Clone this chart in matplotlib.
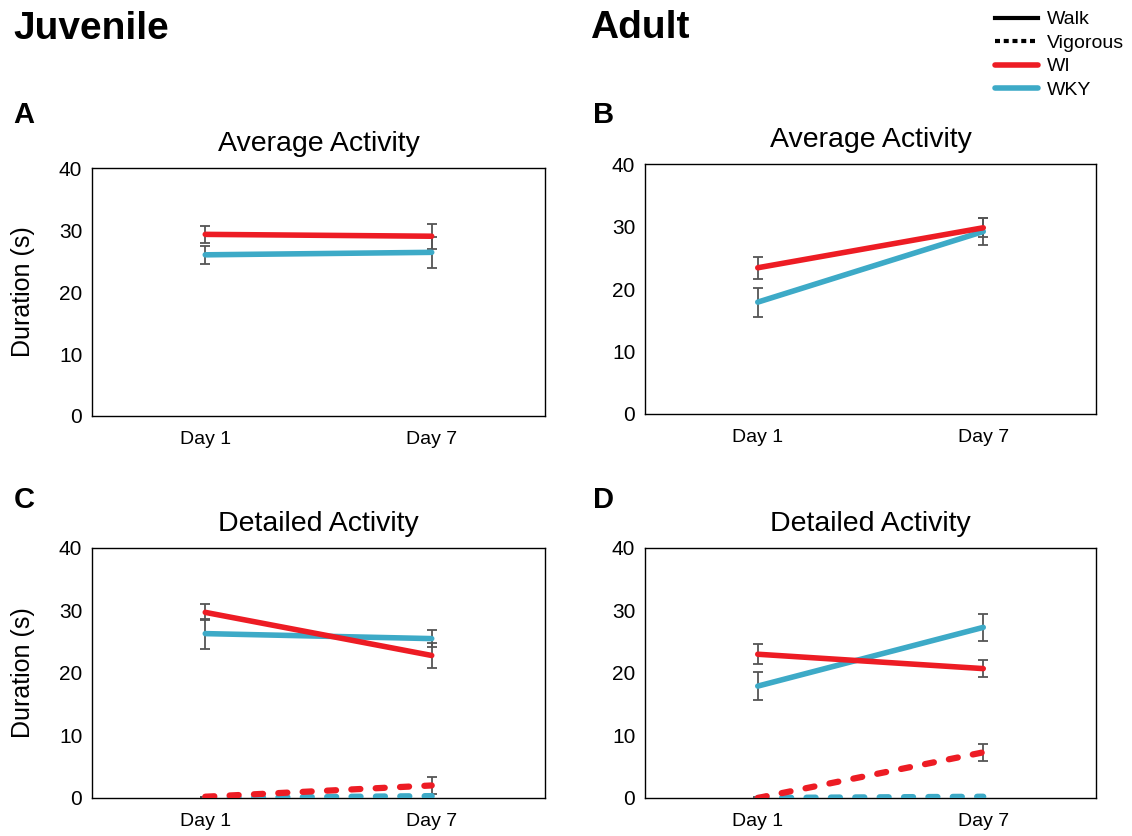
import matplotlib.pyplot as plt
from matplotlib.lines import Line2D

days = ['Day 1', 'Day 7']

# juvenile, walking (average activity)
juv_avg_wi = [29.3, 29.0]
juv_avg_wi_err = [1.4, 2.0]
juv_avg_wky = [26.0, 26.4]
juv_avg_wky_err = [1.5, 2.5]

# adult, walking (average activity)
adu_avg_wi = [23.4, 29.8]
adu_avg_wi_err = [1.8, 1.5]
adu_avg_wky = [17.9, 29.2]
adu_avg_wky_err = [2.3, 2.2]

# juvenile, detailed: walk + vigorous
juv_walk_wi = [29.7, 22.8]
juv_walk_wi_err = [1.3, 2.0]
juv_walk_wky = [26.3, 25.5]
juv_walk_wky_err = [2.4, 1.3]
juv_vig_wi = [0.2, 2.0]
juv_vig_wi_err = [0.0, 1.4]
juv_vig_wky = [0.0, 0.3]

# adult, detailed: walk + vigorous
adu_walk_wi = [23.0, 20.7]
adu_walk_wi_err = [1.6, 1.3]
adu_walk_wky = [17.9, 27.3]
adu_walk_wky_err = [2.3, 2.2]
adu_vig_wi = [0.0, 7.3]
adu_vig_wi_err = [0.2, 1.4]
adu_vig_wky = [0.0, 0.2]

RED = '#ED1C24'
BLUE = '#3DAAC7'
ERR = '#555555'
x = [0, 1]
dash = (0, (1.45, 2.45))

fig = plt.figure(figsize=(11.32, 8.36), dpi=100)
plt.rcParams['font.family'] = ['Liberation Sans', 'DejaVu Sans']


def make_ax(rect, title, ylabel=None):
    ax = fig.add_axes(rect)
    ax.set_xlim(-0.5, 1.5)
    ax.set_ylim(0, 40)
    ax.set_yticks([0, 10, 20, 30, 40])
    ax.set_xticks(x)
    ax.set_xticklabels(days)
    ax.tick_params(axis='x', length=0, labelsize=14, pad=11)
    ax.tick_params(axis='y', length=0, labelsize=15, pad=7)
    for s in ax.spines.values():
        s.set_linewidth(1.0)
    ax.set_title(title, fontsize=20.5, pad=12)
    if ylabel:
        ax.set_ylabel(ylabel, fontsize=18)
        ax.yaxis.set_label_coords(-0.127, 0.5)
    return ax


def series(ax, y, err, color, ls='-', lw=4.0):
    if err is not None:
        ax.errorbar(x, y, yerr=err, fmt='none', ecolor=ERR, elinewidth=1.3,
                    capsize=3.5, capthick=1.3, zorder=2)
    ax.plot(x, y, color=color, lw=lw, ls=ls, solid_capstyle='round',
            dash_capstyle='round', zorder=3)


axA = make_ax([0.0813, 0.5024, 0.4001, 0.2966], 'Average Activity', 'Duration (s)')
series(axA, juv_avg_wky, juv_avg_wky_err, BLUE)
series(axA, juv_avg_wi, juv_avg_wi_err, RED)

axB = make_ax([0.5698, 0.5048, 0.3984, 0.2990], 'Average Activity')
series(axB, adu_avg_wky, adu_avg_wky_err, BLUE)
series(axB, adu_avg_wi, adu_avg_wi_err, RED)

axC = make_ax([0.0813, 0.0455, 0.4001, 0.2990], 'Detailed Activity', 'Duration (s)')
series(axC, juv_vig_wky, None, BLUE, dash, 4.5)
series(axC, juv_vig_wi, juv_vig_wi_err, RED, dash, 4.5)
series(axC, juv_walk_wky, juv_walk_wky_err, BLUE)
series(axC, juv_walk_wi, juv_walk_wi_err, RED)

axD = make_ax([0.5698, 0.0455, 0.3984, 0.2990], 'Detailed Activity')
series(axD, adu_vig_wky, None, BLUE, dash, 4.5)
series(axD, adu_vig_wi, adu_vig_wi_err, RED, dash, 4.5)
series(axD, adu_walk_wky, adu_walk_wky_err, BLUE)
series(axD, adu_walk_wi, adu_walk_wi_err, RED)

# group headings and panel letters
fig.text(0.012, 0.965, 'Juvenile', fontsize=28, fontweight='bold', va='center')
fig.text(0.521, 0.967, 'Adult', fontsize=28, fontweight='bold', va='center')
for lbl, px, py in [('A', 0.012, 0.863), ('B', 0.524, 0.863),
                    ('C', 0.012, 0.402), ('D', 0.524, 0.402)]:
    fig.text(px, py, lbl, fontsize=21, fontweight='bold', va='center')

handles = [Line2D([], [], color='black', lw=3),
           Line2D([], [], color='black', lw=3, ls=(0, (1.2, 0.9))),
           Line2D([], [], color=RED, lw=4, solid_capstyle='round'),
           Line2D([], [], color=BLUE, lw=4, solid_capstyle='round')]
fig.legend(handles, ['Walk', 'Vigorous', 'WI', 'WKY'], loc='upper right',
           bbox_to_anchor=(1.008, 1.008), frameon=False, fontsize=14,
           handlelength=2.2, labelspacing=0.3, handletextpad=0.45)

fig.savefig('out.png', dpi=100)
